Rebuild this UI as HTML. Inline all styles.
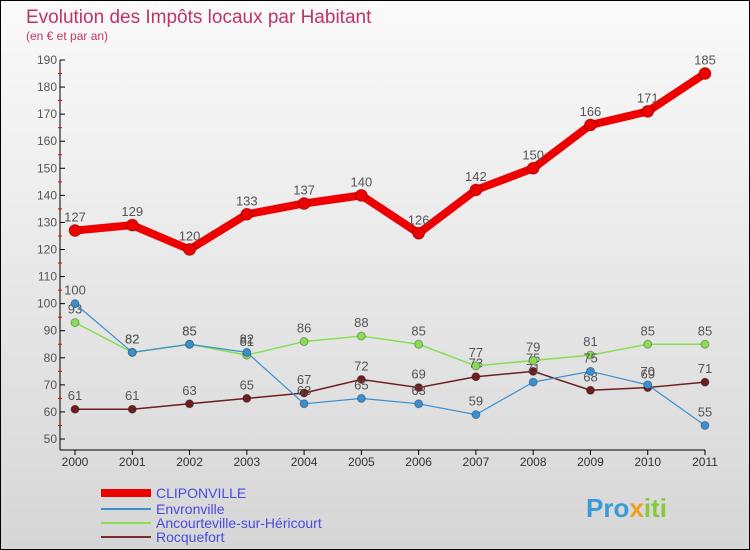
<!DOCTYPE html>
<html><head><meta charset="utf-8"><style>
body{margin:0}
#wrap{position:relative;width:748px;height:548px;border:1px solid #000;background:linear-gradient(#fafafa,#d6d6d6);font-family:"Liberation Sans",sans-serif;overflow:hidden}
</style></head><body>
<div id="wrap">
<svg id="svg" width="748" height="548" xmlns="http://www.w3.org/2000/svg">
<text x="25" y="22" font-size="19" fill="#c0336a">Evolution des Impôts locaux par Habitant</text>
<text x="25" y="39" font-size="12" fill="#c0336a">(en € et par an)</text>
<g id="axes"></g><g id="series"></g>
<g>
<rect x="100" y="488" width="50" height="8" fill="#e00"/>
<text x="155" y="497" font-size="14" fill="#4a4ae0">CLIPONVILLE</text>
<line x1="100" y1="508" x2="150" y2="508" stroke="#3a8fd0" stroke-width="2"/>
<text x="155" y="513" font-size="14" fill="#4a4ae0">Envronville</text>
<line x1="100" y1="522" x2="150" y2="522" stroke="#88dd55" stroke-width="2"/>
<text x="155" y="527" font-size="14" fill="#4a4ae0">Ancourteville-sur-Héricourt</text>
<line x1="100" y1="536" x2="150" y2="536" stroke="#7a2a2a" stroke-width="2"/>
<text x="155" y="541" font-size="14" fill="#4a4ae0">Rocquefort</text>
</g>
<text x="585" y="516" font-size="26" font-weight="bold" fill="#3a9ad8">Pro<tspan fill="#f0a020">x</tspan><tspan fill="#8ac840">iti</tspan></text>
</svg></div>
<script>
const years=[2000,2001,2002,2003,2004,2005,2006,2007,2008,2009,2010,2011];
const cliponville=[127,129,120,133,137,140,126,142,150,166,171,185];
const envronville=[100,82,85,82,63,65,63,59,71,75,70,55];
const ancourteville=[93,82,85,81,86,88,85,77,79,81,85,85];
const rocquefort=[61,61,63,65,67,72,69,73,75,68,69,71];
const yTicks=[50,60,70,80,90,100,110,120,130,140,150,160,170,180,190];
const NS="http://www.w3.org/2000/svg";
const X=i=>74+i*(630/11), Y=v=>438-(v-50)*(379/140);
function mk(t,a,p){const e=document.createElementNS(NS,t);for(const k in a)e.setAttribute(k,a[k]);p.appendChild(e);return e;}
const ax=document.getElementById('axes'), se=document.getElementById('series');
let l=mk('line',{x1:59,y1:Y(190),x2:59,y2:449,stroke:'#000'},ax);


l=mk('line',{x1:59,y1:449,x2:X(11),y2:449,stroke:'#000'},ax);


yTicks.forEach(v=>{mk('line',{x1:59,y1:Y(v),x2:64,y2:Y(v),stroke:'#000'},ax);
 if(v<190)mk('line',{x1:57,y1:Y(v+5),x2:61,y2:Y(v+5),stroke:'#e00'},ax);
 const t=mk('text',{x:56,y:Y(v)+4,'font-size':12,fill:'#555','text-anchor':'end'},ax);t.textContent=v;
 
 });
years.forEach((y,i)=>{mk('line',{x1:X(i),y1:449,x2:X(i),y2:454,stroke:'#000'},ax);
 const t=mk('text',{x:X(i),y:465,'font-size':12,fill:'#333','text-anchor':'middle'},ax);t.textContent=y;
 
 });
function draw(data,color,w,r,name){
 const g=mk('g',{},se);
 
 
 mk('polyline',{points:data.map((v,i)=>X(i)+','+Y(v)).join(' '),fill:'none',stroke:color,'stroke-width':w,'stroke-linejoin':'round'},g);
 data.forEach((v,i)=>{const c=mk('circle',{cx:X(i),cy:Y(v),r:r,fill:color,stroke:'rgba(0,0,0,0.3)'},g);
  
  
  const t=mk('text',{x:X(i),y:Y(v)-9,'font-size':13,fill:'#555','text-anchor':'middle'},g);t.textContent=v;});
}
draw(rocquefort,'#6e1e1e',1.5,4,'rocquefort');
draw(ancourteville,'#88dd55',1.5,4,'ancourteville');
draw(envronville,'#3a8fd0',1.2,4,'envronville');
draw(cliponville,'#ee0000',8,6,'cliponville');
</script>
</body></html>
